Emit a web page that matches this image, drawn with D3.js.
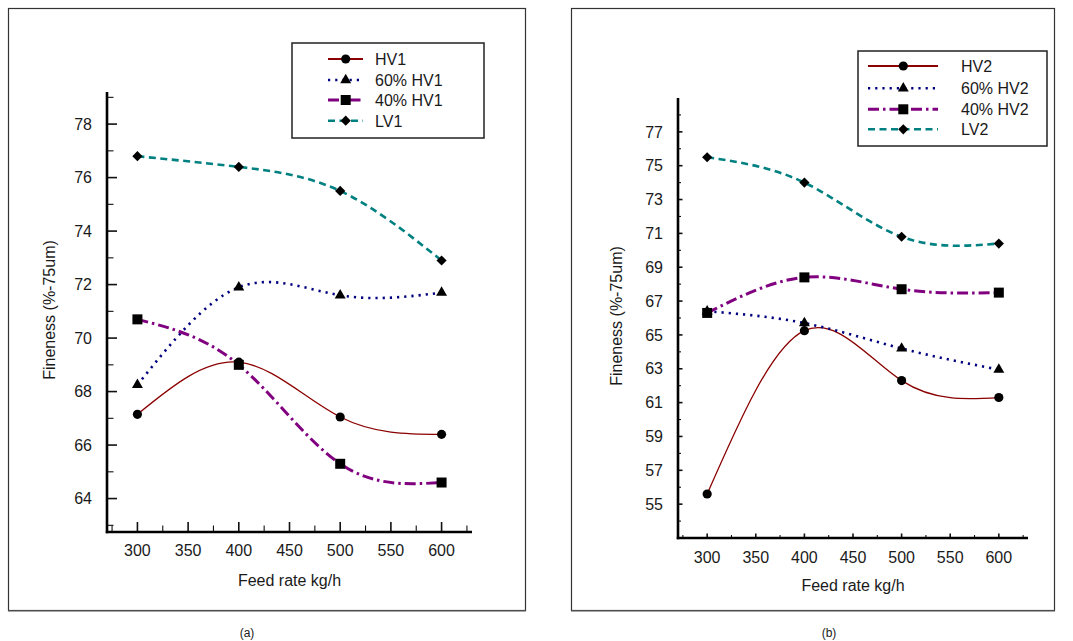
<!DOCTYPE html>
<html>
<head>
<meta charset="utf-8">
<script src="https://cdn.jsdelivr.net/npm/d3@7"></script>
<style>
  html, body { margin: 0; padding: 0; background: #fff; }
  svg { display: block; }
  text { font-family: Arial, "Liberation Sans", Helvetica, sans-serif; fill: #1a1a1a; }
</style>
</head>
<body>
<svg id="chart" width="1073" height="641"></svg>
<script>
// ---------- DATA ----------
const feedRates = [300, 400, 500, 600];
const xTickValues = [300, 350, 400, 450, 500, 550, 600];

// Panel (a)
const namesA = ["HV1", "60% HV1", "40% HV1", "LV1"];
const hv1    = [67.15, 69.1, 67.05, 66.4];
const hv1_60 = [68.25, 71.9, 71.6, 71.7];
const hv1_40 = [70.7, 69.0, 65.3, 64.6];
const lv1    = [76.8, 76.4, 75.5, 72.9];
const yTicksA = [64, 66, 68, 70, 72, 74, 76, 78];

// Panel (b)
const namesB = ["HV2", "60% HV2", "40% HV2", "LV2"];
const hv2    = [55.6, 65.25, 62.3, 61.3];
const hv2_60 = [66.4, 65.7, 64.2, 62.95];
const hv2_40 = [66.3, 68.4, 67.7, 67.5];
const lv2    = [75.5, 74.0, 70.8, 70.4];
const yTicksB = [55, 57, 59, 61, 63, 65, 67, 69, 71, 73, 75, 77];

const xTitle = "Feed rate kg/h";
const yTitle = "Fineness (%-75um)";

// ---------- STYLES ----------
const styles = [
  { color: "#8b0000", width: 1.3, dash: null,           marker: "circle",   legendWidth: 2 },
  { color: "#00007f", width: 2.6, dash: "2.2,5",         marker: "triangle", legendWidth: 2.6 },
  { color: "#800080", width: 3,   dash: "11,4,2.5,4",    marker: "square",   legendWidth: 3 },
  { color: "#008080", width: 2.6, dash: "7,4.5",         marker: "diamond",  legendWidth: 2.6 }
];

const svg = d3.select("#chart");
svg.append("rect").attr("width", 1073).attr("height", 641).attr("fill", "#fff");

function markerPath(type) {
  if (type === "circle") return d3.symbol(d3.symbolCircle, 66)();
  if (type === "square") return d3.symbol(d3.symbolSquare, 100)();
  if (type === "triangle") return d3.symbol(d3.symbolTriangle, 52)();
  if (type === "diamond") return d3.symbol(d3.symbolSquare, 52)();
  return null;
}

function drawPanel(cfg) {
  const g = svg.append("g");
  // frame
  g.append("rect")
    .attr("x", cfg.frame[0] + 0.5).attr("y", cfg.frame[1] + 0.5)
    .attr("width", cfg.frame[2] - cfg.frame[0]).attr("height", cfg.frame[3] - cfg.frame[1])
    .attr("fill", "none").attr("stroke", "#333").attr("stroke-width", 1.2);
  g.append("line")
    .attr("x1", cfg.frame[0]).attr("x2", cfg.frame[2] + 1)
    .attr("y1", cfg.frame[3] + 1.2).attr("y2", cfg.frame[3] + 1.2)
    .attr("stroke", "#888").attr("stroke-width", 1);

  const x = d3.scaleLinear().domain(cfg.xDomain).range([cfg.plot.x0, cfg.plot.x1]);
  const y = d3.scaleLinear().domain(cfg.yDomain).range([cfg.plot.y1, cfg.plot.y0]);

  // x minor/major ticks
  const xMinor = d3.range(275, 630, 25);
  const xAxisG = g.append("g").attr("transform", `translate(0,${cfg.plot.y1})`);
  xAxisG.call(d3.axisBottom(x).tickValues(xMinor).tickSize(0).tickFormat(""));
  xAxisG.select(".domain").remove();
  xAxisG.selectAll(".tick line").remove();
  xMinor.forEach(v => {
    const major = v % 50 === 0;
    xAxisG.append("line")
      .attr("x1", x(v)).attr("x2", x(v))
      .attr("y1", 0).attr("y2", -(major ? cfg.majorTick : cfg.minorTick))
      .attr("stroke", "#111").attr("stroke-width", major ? 1.6 : 1.1);
  });
  xTickValues.forEach(v => {
    xAxisG.append("text")
      .attr("x", x(v)).attr("y", cfg.xLabelOffset)
      .attr("text-anchor", "middle").attr("font-size", 16).text(v);
  });

  // y ticks
  const yAxisG = g.append("g").attr("transform", `translate(${cfg.plot.x0},0)`);
  cfg.yMinor.forEach(v => {
    yAxisG.append("line")
      .attr("x1", 0).attr("x2", cfg.minorTick)
      .attr("y1", y(v)).attr("y2", y(v))
      .attr("stroke", "#111").attr("stroke-width", 1.1);
  });
  cfg.yTicks.forEach(v => {
    yAxisG.append("line")
      .attr("x1", 0).attr("x2", cfg.majorTick)
      .attr("y1", y(v)).attr("y2", y(v))
      .attr("stroke", "#111").attr("stroke-width", 1.6);
    yAxisG.append("text")
      .attr("x", -15).attr("y", y(v) + 5.7)
      .attr("text-anchor", "end").attr("font-size", 16).text(v);
  });

  // axis lines
  g.append("line")
    .attr("x1", cfg.plot.x0).attr("x2", cfg.plot.x0)
    .attr("y1", cfg.plot.y0).attr("y2", cfg.plot.y1 + 1.2)
    .attr("stroke", "#000").attr("stroke-width", 2.6);
  g.append("line")
    .attr("x1", cfg.plot.x0 - 1.2).attr("x2", cfg.plot.x1)
    .attr("y1", cfg.plot.y1).attr("y2", cfg.plot.y1)
    .attr("stroke", "#000").attr("stroke-width", 2.4);

  // titles
  g.append("text")
    .attr("x", (cfg.plot.x0 + cfg.plot.x1) / 2).attr("y", cfg.xTitleY)
    .attr("text-anchor", "middle").attr("font-size", 16).text(xTitle);
  g.append("text")
    .attr("transform", `translate(${cfg.yTitleX},${cfg.yTitleY}) rotate(-90)`)
    .attr("text-anchor", "middle").attr("font-size", 16).text(yTitle);

  // series
  const line = d3.line()
    .x((d, i) => x(feedRates[i]))
    .y(d => y(d))
    .curve(d3.curveNatural);

  cfg.series.forEach((vals, si) => {
    const st = styles[si];
    g.append("path")
      .attr("d", line(vals))
      .attr("fill", "none")
      .attr("stroke", st.color)
      .attr("stroke-width", st.width)
      .attr("stroke-dasharray", st.dash)
      .attr("stroke-linecap", st.dash ? "butt" : "round");
  });
  cfg.series.forEach((vals, si) => {
    const st = styles[si];
    vals.forEach((v, i) => {
      g.append("path")
        .attr("d", markerPath(st.marker))
        .attr("transform", `translate(${x(feedRates[i])},${y(v)})${st.marker === "diamond" ? " rotate(45)" : ""}`)
        .attr("fill", "#000");
    });
  });

  // legend
  const L = cfg.legend;
  g.append("rect")
    .attr("x", L.box[0]).attr("y", L.box[1])
    .attr("width", L.box[2] - L.box[0]).attr("height", L.box[3] - L.box[1])
    .attr("fill", "#fff").attr("stroke", "#222").attr("stroke-width", 1.5);
  cfg.names.forEach((name, si) => {
    const st = styles[si];
    const cy = L.rows[si];
    g.append("line")
      .attr("x1", L.lineX[0]).attr("x2", L.lineX[1])
      .attr("y1", cy).attr("y2", cy)
      .attr("stroke", st.color).attr("stroke-width", st.legendWidth)
      .attr("stroke-dasharray", st.dash);
    g.append("path")
      .attr("d", markerPath(st.marker))
      .attr("transform", `translate(${L.markerX},${cy})${st.marker === "diamond" ? " rotate(45)" : ""}`)
      .attr("fill", "#000");
    g.append("text")
      .attr("x", L.textX).attr("y", cy + 5.8)
      .attr("font-size", 16).text(name);
  });

  // caption
  g.append("text")
    .attr("x", cfg.caption[0]).attr("y", cfg.caption[1])
    .attr("text-anchor", "middle").attr("font-size", 12).text(cfg.caption[2]);
}

drawPanel({
  frame: [8, 8, 525, 610],
  plot: { x0: 107, x1: 472, y0: 92, y1: 532 },
  xDomain: [270, 630],
  yDomain: [62.75, 79.2],
  yTicks: yTicksA,
  yMinor: [63, 65, 67, 69, 71, 73, 75, 77, 79],
  majorTick: 10, minorTick: 6.5,
  xLabelOffset: 24,
  xTitleY: 586,
  yTitleX: 55, yTitleY: 310,
  series: [hv1, hv1_60, hv1_40, lv1],
  names: namesA,
  legend: { box: [292, 43, 484, 138], rows: [59, 80, 100, 120.7], lineX: [328, 363], markerX: 345.7, textX: 375 },
  caption: [247, 637, "(a)"]
});

drawPanel({
  frame: [571, 8, 1054, 610],
  plot: { x0: 678, x1: 1028, y0: 98, y1: 538 },
  xDomain: [270, 630],
  yDomain: [53, 79],
  yTicks: yTicksB,
  yMinor: [54, 56, 58, 60, 62, 64, 66, 68, 70, 72, 74, 76, 78],
  majorTick: 4.5, minorTick: 3,
  xLabelOffset: 25,
  xTitleY: 591,
  yTitleX: 622, yTitleY: 316,
  series: [hv2, hv2_60, hv2_40, lv2],
  names: namesB,
  legend: { box: [858, 51, 1047, 146], rows: [66, 88.3, 109.3, 129.3], lineX: [868, 938], markerX: 903.3, textX: 961 },
  caption: [829, 637, "(b)"]
});
</script>
</body>
</html>
